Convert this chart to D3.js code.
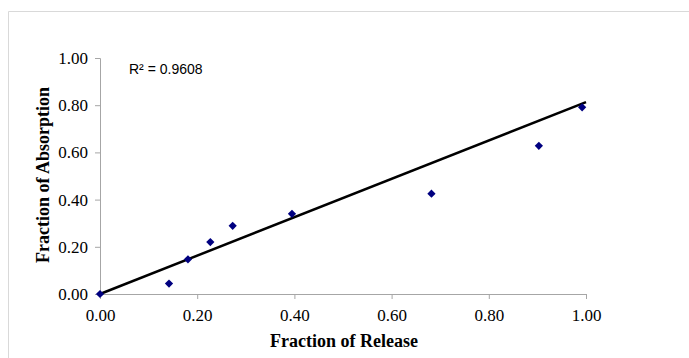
<!DOCTYPE html>
<html>
<head>
<meta charset="utf-8">
<script src="https://cdn.jsdelivr.net/npm/d3@7"></script>
<style>
  body { margin: 0; background: #fff; }
</style>
</head>
<body>
<div id="canvas"></div>
<script>
"use strict"

// data
let release = [0.00, 0.142, 0.181, 0.227, 0.273, 0.395, 0.682, 0.903, 0.992];
let absorption = [0.00, 0.044, 0.147, 0.220, 0.289, 0.340, 0.425, 0.628, 0.791];
let trendX = [0.00, 1.00];
let trendY = [0.00, 0.813];
let ticks = [0, 0.2, 0.4, 0.6, 0.8, 1.0];
let rSquared = "R² = 0.9608";

let drawing = d3.select("#canvas")
    .append("svg")
    .attr("width", 689)
    .attr("height", 358);

// outer frame, only top and left edges show
drawing.append("path")
    .attr("d", "M8.5,358 L8.5,11.5 L689,11.5")
    .attr("fill", "none")
    .attr("stroke", "#d9d9d9");

let x = d3.scaleLinear().domain([0, 1]).range([100, 586]);
let y = d3.scaleLinear().domain([0, 1]).range([294, 58]);

let xAxis = drawing.append("g")
    .attr("transform", "translate(0,294)")
    .call(d3.axisBottom(x).tickValues(ticks).tickFormat(d3.format(".2f")).tickSize(5).tickPadding(10));

let yAxis = drawing.append("g")
    .attr("transform", "translate(100,0)")
    .call(d3.axisLeft(y).tickValues(ticks).tickFormat(d3.format(".2f")).tickSize(5).tickPadding(7));

[xAxis, yAxis].forEach(function (ax) {
    ax.selectAll("path, line").attr("stroke", "#a6a6a6");
    ax.select(".domain").attr("d", ax === xAxis ? "M100.5,0.5H586.5V5" : "M-5,58.5H0.5V294.5");
    ax.selectAll("text")
        .attr("font-family", "'Liberation Serif', 'Times New Roman', serif")
        .attr("font-size", 17)
        .attr("fill", "#000");
});

// trendline
drawing.append("line")
    .attr("x1", x(trendX[0]))
    .attr("y1", y(trendY[0]))
    .attr("x2", x(trendX[1]))
    .attr("y2", y(trendY[1]))
    .attr("stroke", "#000")
    .attr("stroke-width", 2.5);

// diamond markers
let diamond = d3.symbol().type(d3.symbolSquare).size(34);
drawing.append("g")
    .selectAll("path")
    .data(release)
    .join("path")
    .attr("d", diamond)
    .attr("transform", (d, i) => `translate(${x(d)},${y(absorption[i])}) rotate(45)`)
    .attr("fill", "#000080");

drawing.append("text")
    .attr("x", 129)
    .attr("y", 74)
    .attr("font-family", "'Liberation Sans', Arial, sans-serif")
    .attr("font-size", 14)
    .text(rSquared);

drawing.append("text")
    .attr("x", 344)
    .attr("y", 347)
    .attr("text-anchor", "middle")
    .attr("font-family", "'Liberation Serif', 'Times New Roman', serif")
    .attr("font-weight", "bold")
    .attr("font-size", 18)
    .text("Fraction of Release");

drawing.append("text")
    .attr("transform", "translate(49,175) rotate(-90)")
    .attr("text-anchor", "middle")
    .attr("font-family", "'Liberation Serif', 'Times New Roman', serif")
    .attr("font-weight", "bold")
    .attr("font-size", 18)
    .text("Fraction of Absorption");
</script>
</body>
</html>
